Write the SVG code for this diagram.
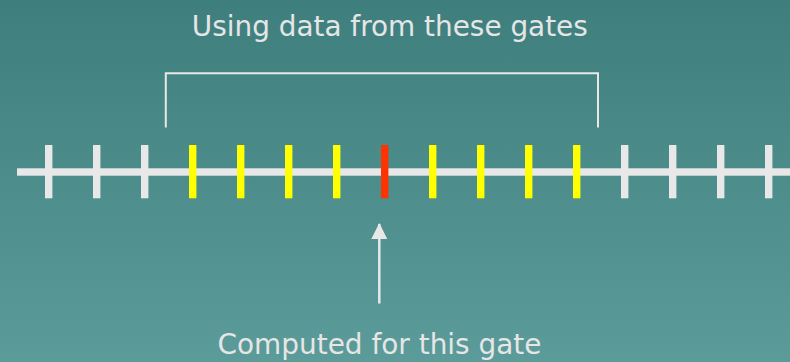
<svg xmlns="http://www.w3.org/2000/svg" width="790" height="362" viewBox="0 0 790 362">
  <defs>
    <linearGradient id="bg" x1="0" y1="0" x2="0" y2="1">
      <stop offset="0" stop-color="#3e7f7e"/>
      <stop offset="1" stop-color="#5b9b99"/>
    </linearGradient>
    <marker id="arrowhead" markerUnits="userSpaceOnUse" markerWidth="16" markerHeight="16" viewBox="0 0 16 16" refX="15" refY="8" orient="auto">
      <path d="M0,0 L16,8 L0,16 Z" fill="#e8e8e8"/>
    </marker>
    <style>
      .label { font-family: "DejaVu Sans", "Liberation Sans", sans-serif; font-size: 28px; fill: #e6e6e6; }
      .line { stroke: #e8e8e8; fill: none; }
      .tick-plain { fill: #e8e8e8; }
      .tick-used { fill: #ffff00; }
      .tick-target { fill: #ff3300; }
    </style>
  </defs>

  <rect width="790" height="362" fill="url(#bg)"/>

  <!-- axis of range gates -->
  <g id="axis">
    <rect x="17" y="168.3" width="773" height="7.4" fill="#e8e8e8"/>
  </g>

  <g id="gates">
    <rect id="gate-1" class="tick-plain" x="45" y="145" width="7.4" height="53.3"/>
    <rect id="gate-2" class="tick-plain" x="93" y="145" width="7.4" height="53.3"/>
    <rect id="gate-3" class="tick-plain" x="141" y="145" width="7.4" height="53.3"/>
    <rect id="gate-4" class="tick-used" x="189" y="145" width="7.4" height="53.3"/>
    <rect id="gate-5" class="tick-used" x="237" y="145" width="7.4" height="53.3"/>
    <rect id="gate-6" class="tick-used" x="285" y="145" width="7.4" height="53.3"/>
    <rect id="gate-7" class="tick-used" x="333" y="145" width="7.4" height="53.3"/>
    <rect id="gate-8" class="tick-target" x="381" y="145" width="7.4" height="53.3"/>
    <rect id="gate-9" class="tick-used" x="429" y="145" width="7.4" height="53.3"/>
    <rect id="gate-10" class="tick-used" x="477" y="145" width="7.4" height="53.3"/>
    <rect id="gate-11" class="tick-used" x="525" y="145" width="7.4" height="53.3"/>
    <rect id="gate-12" class="tick-used" x="573" y="145" width="7.4" height="53.3"/>
    <rect id="gate-13" class="tick-plain" x="621" y="145" width="7.4" height="53.3"/>
    <rect id="gate-14" class="tick-plain" x="669" y="145" width="7.4" height="53.3"/>
    <rect id="gate-15" class="tick-plain" x="717" y="145" width="7.4" height="53.3"/>
    <rect id="gate-16" class="tick-plain" x="765" y="145" width="7.4" height="53.3"/>
  </g>

  <g id="connectors">
    <path id="bracket" class="line" stroke-width="2" d="M165.8,127.5 V73.3 H598 V127.5"/>
    <path id="pointer" class="line" stroke-width="2.5" d="M379.3,303.5 V224" marker-end="url(#arrowhead)"/>
  </g>

  <g id="label-used">
    <text class="label" x="389.8" y="35.5" text-anchor="middle" textLength="396" lengthAdjust="spacingAndGlyphs">Using data from these gates</text>
  </g>
  <g id="label-target">
    <text class="label" x="379.5" y="354" text-anchor="middle" textLength="324" lengthAdjust="spacingAndGlyphs">Computed for this gate</text>
  </g>
</svg>
